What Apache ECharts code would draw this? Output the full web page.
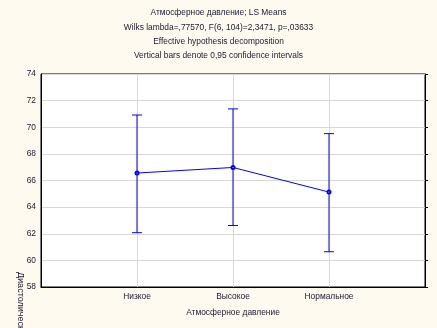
<!DOCTYPE html>
<html><head><meta charset="utf-8">
<script src="https://cdn.jsdelivr.net/npm/echarts@6/dist/echarts.min.js"></script>
<style>html,body{margin:0;padding:0;background:#FFFAF0;}#c{width:437px;height:328px;}</style>
</head><body><div id="c"></div>
<script>
var categories = ['Низкое', 'Высокое', 'Нормальное'];
var means = [66.56, 66.98, 65.13];
var lower = [62.08, 62.62, 60.65];
var upper = [70.92, 71.38, 69.52];
var yTicks = [58, 60, 62, 64, 66, 68, 70, 72, 74];
var titleLines = ['Атмосферное давление; LS Means', 'Wilks lambda=,77570, F(6, 104)=2,3471, p=,03633', 'Effective hypothesis decomposition', 'Vertical bars denote 0,95 confidence intervals'];
var xName = 'Атмосферное давление';
var yName = 'Диастолическое';

var chart = echarts.init(document.getElementById('c'));
var FONT = 'Liberation Sans, Arial, sans-serif';
var TXT = '#1a1a2e';
var BLUE = '#0000ff';
var linePts = means.map(function(m, i){ return [i + 1, m]; });
var errPts = means.map(function(m, i){ return [i + 1, lower[i], upper[i]]; });
var titleY = [15, 30, 44, 58];
chart.setOption({
  backgroundColor: '#FFFAF0',
  animation: false,
  title: titleLines.map(function(t, i){
    return {text: t, left: 'center', top: titleY[i] - 6, padding: 0,
      textStyle: {fontFamily: FONT, fontSize: 8.4, fontWeight: 'normal', color: TXT}};
  }),
  grid: {left: 41, right: 12, top: 74, bottom: 41, show: true, backgroundColor: '#fff', borderColor: '#000', borderWidth: 1},
  xAxis: [{
    type: 'value', min: 0, max: 4, interval: 1,
    name: xName, nameLocation: 'middle', nameGap: 22,
    nameTextStyle: {fontFamily: FONT, fontSize: 8.4, color: TXT},
    axisLine: {show: true, lineStyle: {color: '#000'}},
    axisTick: {show: false},
    axisLabel: {fontFamily: FONT, fontSize: 8.4, color: TXT, margin: 6,
      formatter: function(v){ return categories[v - 1] || ''; }},
    splitLine: {show: true, lineStyle: {color: '#d8d8d8'}}
  }],
  yAxis: [{
    type: 'value', min: yTicks[0], max: yTicks[yTicks.length - 1], interval: 2,
    axisLine: {show: true, lineStyle: {color: '#000'}},
    axisTick: {show: false},
    axisLabel: {fontFamily: FONT, fontSize: 8.4, color: TXT, margin: 5},
    splitLine: {show: true, lineStyle: {color: '#d8d8d8'}}
  }, {
    type: 'value', min: yTicks[0], max: yTicks[yTicks.length - 1], interval: 2, position: 'right',
    axisLine: {show: true, lineStyle: {color: '#000'}},
    axisTick: {show: true, inside: false, length: 3, lineStyle: {color: '#000'}},
    axisLabel: {show: false}, splitLine: {show: false}
  }],
  graphic: [{
    type: 'text', x: 25, y: 272, rotation: -Math.PI / 2,
    style: {text: yName, fontFamily: FONT, fontSize: 9, fill: TXT}
  }],
  series: [{
    type: 'custom',
    data: errPts,
    renderItem: function(params, api){
      var x = api.value(0);
      var lo = api.coord([x, api.value(1)]);
      var hi = api.coord([x, api.value(2)]);
      var w = 5;
      var st = {stroke: BLUE, lineWidth: 1};
      return {type: 'group', children: [
        {type: 'line', shape: {x1: lo[0], y1: lo[1], x2: hi[0], y2: hi[1]}, style: st},
        {type: 'line', shape: {x1: lo[0] - w, y1: lo[1], x2: lo[0] + w, y2: lo[1]}, style: st},
        {type: 'line', shape: {x1: hi[0] - w, y1: hi[1], x2: hi[0] + w, y2: hi[1]}, style: st}
      ]};
    },
    z: 3
  }, {
    type: 'line', data: linePts,
    symbol: 'emptyCircle', symbolSize: 3,
    lineStyle: {color: BLUE, width: 1},
    itemStyle: {color: BLUE, borderColor: BLUE, borderWidth: 1},
    z: 4
  }]
});
</script></body></html>
